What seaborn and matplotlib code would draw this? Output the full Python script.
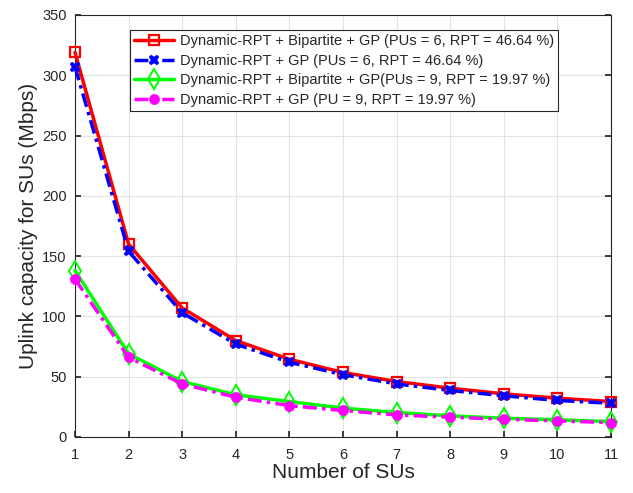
import matplotlib
matplotlib.use("Agg")
import matplotlib.pyplot as plt
import seaborn as sns
import numpy as np

num_sus = [1, 2, 3, 4, 5, 6, 7, 8, 9, 10, 11]
red_bip_pu6 = [319, 160, 107, 80, 64.5, 53.5, 46, 40.5, 35.8, 32.2, 29.4]
blue_gp_pu6 = [307, 154, 103, 77, 62, 51.7, 44, 38.6, 34.2, 30.3, 28]
green_bip_pu9 = [138, 69, 46, 35, 29.4, 23.9, 20.3, 17.5, 15.6, 14.2, 12.8]
mag_gp_pu9 = [131, 66, 44, 33, 26, 22, 18.3, 16.4, 14.7, 13.3, 12]
labels = [
    "Dynamic-RPT + Bipartite + GP (PUs = 6, RPT = 46.64 %)",
    "Dynamic-RPT + GP (PUs = 6, RPT = 46.64 %)",
    "Dynamic-RPT + Bipartite + GP(PUs = 9, RPT = 19.97 %)",
    "Dynamic-RPT + GP (PU = 9, RPT = 19.97 %)",
]
x_ticks = [1, 2, 3, 4, 5, 6, 7, 8, 9, 10, 11]
y_ticks = [0, 50, 100, 150, 200, 250, 300, 350]

sns.set_theme(style="whitegrid")
plt.rcParams['font.family'] = ['Liberation Sans', 'DejaVu Sans']

fig = plt.figure(figsize=(6.33, 4.93), dpi=100)
ax = fig.add_axes([75/633, 1-437/493, (611-75)/633, (437-15)/493])

dashdot = (0, (4, 1.5, 1, 1.5))
styles = [
    dict(color="#ff0000", linestyle="-", marker="s", markerfacecolor="none", markersize=7, markeredgewidth=1.6),
    dict(color="#0000ff", linestyle=dashdot, marker="X", markerfacecolor="#0000ff", markersize=7.5, markeredgewidth=0.3),
    dict(color="#00ff00", linestyle="-", marker="d", markerfacecolor="none", markersize=10, markeredgewidth=1.4),
    dict(color="#ff00ff", linestyle=dashdot, marker="o", markerfacecolor="#ff00ff", markersize=7.5, markeredgewidth=0.3),
]
series = [red_bip_pu6, blue_gp_pu6, green_bip_pu9, mag_gp_pu9]
for vals, lab, st in zip(series, labels, styles):
    sns.lineplot(x=num_sus, y=vals, ax=ax, label=lab, linewidth=2.5, color=st["color"])
    ln = ax.lines[-1]
    ln.set_linestyle(st["linestyle"])
    ln.set_marker(st["marker"])
    ln.set_markersize(st["markersize"])
    ln.set_markerfacecolor(st["markerfacecolor"])
    ln.set_markeredgecolor(st["color"])
    ln.set_markeredgewidth(st["markeredgewidth"])
    ln.set_linewidth(2.5)
    ln.set_clip_on(False)
    ln.set_zorder(3)

ax.set_xlim(1, 11)
ax.set_ylim(0, 350)
ax.set_xticks(x_ticks)
ax.set_yticks(y_ticks)
ax.grid(True, color="#e3e3e3", linewidth=0.8)
for s in ax.spines.values():
    s.set_color("#262626")
    s.set_linewidth(0.8)
    s.set_visible(True)
ax.tick_params(direction="in", length=4, color="#262626", labelsize=10.5, labelcolor="#262626",
               top=False, right=True, bottom=True, left=True)
ax.tick_params(axis="x", pad=8)
ax.tick_params(axis="y", pad=6)
ax.set_xlabel("Number of SUs", fontsize=15, color="#262626", labelpad=1)
ax.set_ylabel("Uplink capacity for SUs (Mbps)", fontsize=15, color="#262626", labelpad=3)

leg = ax.legend(loc="upper right", fontsize=10.5,
                frameon=True, fancybox=False, edgecolor="#262626", framealpha=1,
                handlelength=2.7, borderpad=0.3, labelspacing=0.38, handletextpad=0.4,
                borderaxespad=0.0)
leg.get_frame().set_linewidth(0.8)
leg.set_bbox_to_anchor(((558-75)/536, 1-(30-15)/422), transform=ax.transAxes)

fig.savefig("out.png", dpi=100)
